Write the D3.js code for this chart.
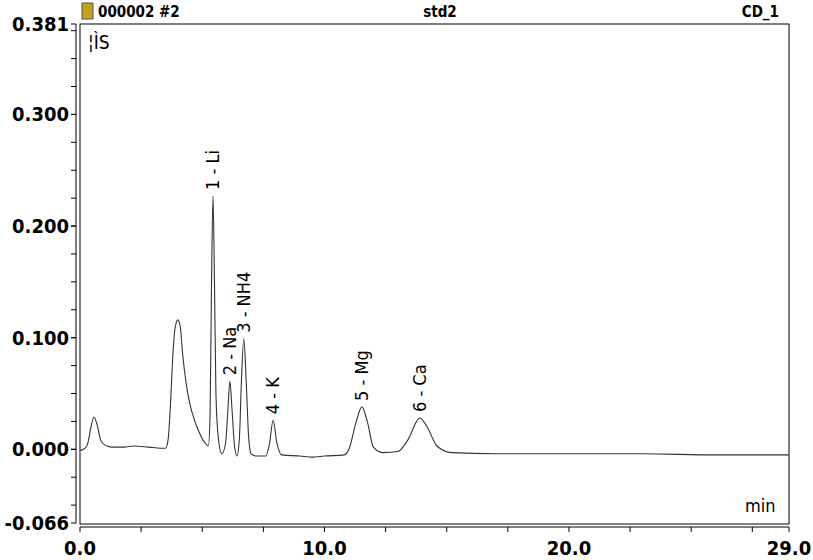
<!DOCTYPE html>
<html><head><meta charset="utf-8">
<script src="https://cdn.jsdelivr.net/npm/d3@7"></script>
<style>body{margin:0;background:#fff}svg{display:block}</style>
</head><body>
<script>
// retention time (min) and signal (µS)
const times = [0.0,0.15,0.3,0.45,0.57,0.7,0.85,1.0,1.3,1.8,2.2,2.8,3.3,3.5,3.6,3.7,3.8,3.9,4.0,4.1,4.2,4.35,4.5,4.7,4.9,5.1,5.25,5.32,5.38,5.44,5.5,5.56,5.65,5.8,5.95,6.05,6.13,6.22,6.32,6.42,6.52,6.6,6.7,6.8,6.9,7.0,7.2,7.6,7.75,7.9,8.05,8.25,9.0,9.5,10.0,10.8,11.0,11.3,11.53,11.75,12.0,12.4,13.0,13.4,13.9,14.2,14.6,15.2,17,20,23,26,29];
const signal = [-0.001,0.000,0.004,0.020,0.029,0.022,0.008,0.004,0.002,0.002,0.003,0.002,0.001,0.001,0.008,0.040,0.085,0.110,0.116,0.110,0.085,0.058,0.040,0.025,0.014,0.006,0.003,0.030,0.150,0.227,0.150,0.050,0.012,-0.004,0.005,0.035,0.061,0.035,0.003,-0.006,0.010,0.060,0.099,0.060,0.010,-0.004,-0.006,-0.006,0.005,0.026,0.006,-0.005,-0.006,-0.007,-0.006,-0.005,0.000,0.025,0.038,0.025,0.002,-0.003,-0.002,0.008,0.028,0.020,0.003,-0.003,-0.004,-0.004,-0.004,-0.005,-0.005];
const peakNames = ["1 - Li","2 - Na","3 - NH4","4 - K","5 - Mg","6 - Ca"];
const peakTimes = [5.44,6.13,6.7,7.9,11.53,13.9];
const peakHeights = [0.227,0.061,0.099,0.026,0.038,0.028];
const yTickLabels = [0.381,0.300,0.200,0.100,0.000,-0.066];
const xTickLabels = [0,10,20,29];

const W = 813, H = 560;
const svg = d3.select('body').append('svg').attr('width', W).attr('height', H);
const x = d3.scaleLinear().domain([0, 29]).range([80, 789]);
const y = d3.scaleLinear().domain([-0.066, 0.381]).range([523, 24]);
const bold = 'font-family:"DejaVu Sans Condensed","DejaVu Sans",sans-serif;font-weight:bold';
const plain = 'DejaVu Sans Condensed, DejaVu Sans, sans-serif';

// plot frame
svg.append('rect').attr('x', 80).attr('y', 24).attr('width', 709).attr('height', 500)
  .attr('fill', 'none').attr('stroke', '#000');

// y axis
const ya = svg.append('g').attr('transform', 'translate(76,0)');
ya.append('line').attr('x1', 0).attr('x2', 0).attr('y1', y(0.381)).attr('y2', y(-0.066)).attr('stroke', '#000');
ya.selectAll('.minor').data(d3.range(-0.05, 0.38, 0.025)).join('line')
  .attr('x1', -5).attr('x2', 0).attr('y1', d => y(d)).attr('y2', d => y(d)).attr('stroke', '#000');
ya.selectAll('text').data(yTickLabels).join('text')
  .attr('x', -7).attr('y', d => y(d) + 7).attr('text-anchor', 'end')
  .attr('style', bold).attr('font-size', 20).text(d => d3.format('.3f')(d).replace('−', '-'));
ya.selectAll('.end').data(yTickLabels).join('line')
  .attr('x1', -5).attr('x2', 0).attr('y1', d => y(d)).attr('y2', d => y(d)).attr('stroke', '#000');

// x axis
const xa = svg.append('g').attr('transform', 'translate(0,527)');
xa.append('line').attr('x1', x(0)).attr('x2', x(29)).attr('stroke', '#000');
xa.selectAll('line.t').data(d3.range(0, 29.1, 2.5).concat([29])).join('line').attr('class', 't')
  .attr('x1', d => x(d)).attr('x2', d => x(d)).attr('y1', 0).attr('y2', 5).attr('stroke', '#000');
xa.selectAll('text').data(xTickLabels).join('text')
  .attr('x', d => x(d)).attr('y', 28).attr('text-anchor', 'middle')
  .attr('style', bold).attr('font-size', 20).text(d => d3.format('.1f')(d));

// header
svg.append('rect').attr('x', 82).attr('y', 3).attr('width', 11).attr('height', 16).attr('fill', '#c8a020').attr('stroke', '#555');
svg.append('text').attr('x', 98).attr('y', 17).attr('style', bold).attr('font-size', 15).text('000002 #2');
svg.append('text').attr('x', 440).attr('y', 17).attr('text-anchor', 'middle').attr('style', bold).attr('font-size', 15).text('std2');
svg.append('text').attr('x', 779).attr('y', 17).attr('text-anchor', 'end').attr('style', bold).attr('font-size', 15).text('CD_1');
svg.append('text').attr('x', 88).attr('y', 49).attr('font-family', plain).attr('font-size', 19).text('¦ÌS');
svg.append('text').attr('x', 745).attr('y', 512).attr('font-family', plain).attr('font-size', 18).text('min');

// trace
const pts = times.map((t, i) => [t, signal[i]]);
svg.append('path').datum(pts)
  .attr('d', d3.line().x(d => x(d[0])).y(d => y(d[1])).curve(d3.curveMonotoneX))
  .attr('fill', 'none').attr('stroke', '#333').attr('stroke-width', 1.1);

// peak labels
svg.selectAll('.pk').data(peakNames).join('text').attr('class', 'pk')
  .attr('transform', (d, i) => `translate(${x(peakTimes[i]) + 6},${y(peakHeights[i]) - 6}) rotate(-90)`)
  .attr('font-family', plain).attr('font-size', 18).text(d => d);
</script>
</body></html>
